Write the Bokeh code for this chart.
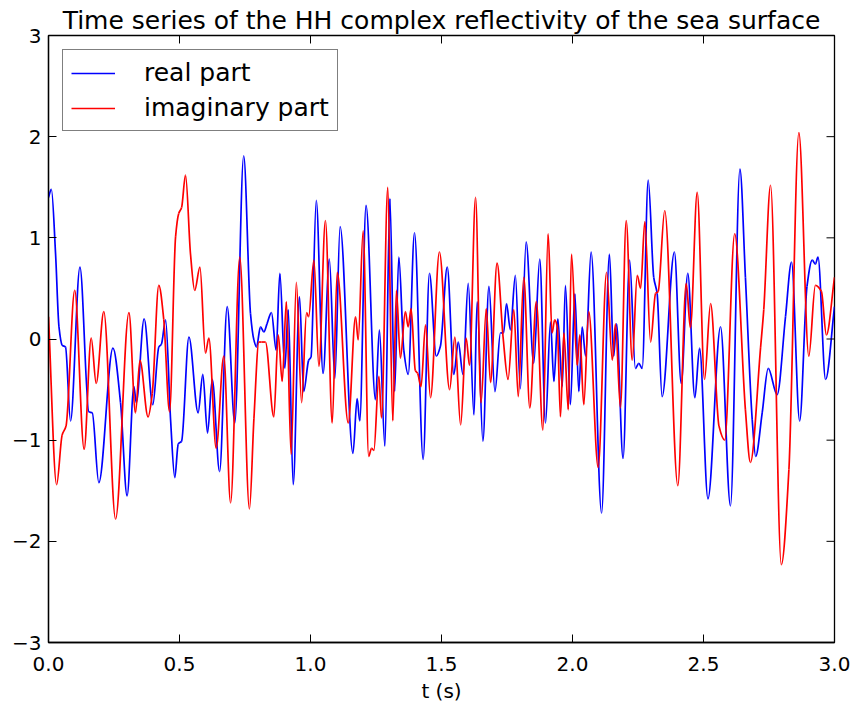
import numpy as np
from bokeh.plotting import figure
from bokeh.models import (FixedTicker, PrintfTickFormatter, CustomJSTickFormatter,
                          Range1d, Legend, LegendItem, ColumnDataSource)
from bokeh.embed import file_html
from bokeh.resources import INLINE

TITLE = "Time series of the HH complex reflectivity of the sea surface"
X_LABEL = "t (s)"
SERIES_NAMES = ["real part", "imaginary part"]
X_TICKS = [0.0, 0.5, 1.0, 1.5, 2.0, 2.5, 3.0]
Y_TICKS = [-3, -2, -1, 0, 1, 2, 3]

# real part (extrema and shoulders)
real_t = [0.000, 0.011, 0.027, 0.040, 0.052, 0.065, 0.084, 0.120, 0.154, 0.167, 0.192, 0.246, 0.275, 0.300,
          0.326, 0.335, 0.365, 0.398, 0.421, 0.431, 0.447, 0.466, 0.482, 0.495, 0.508, 0.536, 0.571, 0.589,
          0.607, 0.625, 0.653, 0.682, 0.711, 0.745, 0.771, 0.784, 0.794, 0.809, 0.822, 0.834, 0.851, 0.869,
          0.883, 0.902, 0.915, 0.934, 0.958, 0.974, 0.993, 1.002, 1.022, 1.048, 1.072, 1.093, 1.113, 1.162,
          1.178, 1.188, 1.212, 1.248, 1.263, 1.284, 1.303, 1.321, 1.337, 1.356, 1.373, 1.397, 1.430, 1.454,
          1.480, 1.496, 1.522, 1.547, 1.564, 1.582, 1.602, 1.624, 1.636, 1.658, 1.681, 1.704, 1.725, 1.737,
          1.748, 1.763, 1.782, 1.801, 1.823, 1.852, 1.875, 1.897, 1.916, 1.929, 1.944, 1.961, 1.973, 1.992,
          2.009, 2.024, 2.037, 2.050, 2.071, 2.111, 2.141, 2.157, 2.168, 2.193, 2.218, 2.240, 2.253, 2.266,
          2.289, 2.310, 2.323, 2.342, 2.389, 2.415, 2.440, 2.467, 2.485, 2.517, 2.565, 2.603, 2.639, 2.660,
          2.686, 2.699, 2.724, 2.747, 2.781, 2.813, 2.836, 2.867, 2.895, 2.915, 2.927, 2.937, 2.966, 3.000]
real_y = [1.40, 1.48, 0.84, 0.12, -0.06, -0.08, -0.81, 0.71, -0.72, -0.73, -1.42, -0.09, -0.63, -1.55,
          -0.47, -0.63, 0.20, -0.65, -0.08, -0.05, 0.19, -0.80, -1.37, -1.04, -1.01, 0.02, -0.73, -0.35,
          -0.93, -0.40, -1.31, 0.32, -0.83, 1.81, 0.25, -0.01, -0.08, 0.12, 0.07, 0.15, 0.26, -0.11,
          0.65, -0.29, 0.29, -1.44, 0.42, -0.52, -0.21, -0.18, 1.37, -0.34, 0.79, -0.39, 1.11, -1.13,
          -0.59, -0.81, 1.32, -0.60, 0.09, -1.06, 1.39, -0.52, 0.81, -0.11, -0.35, 1.05, -1.19, 0.65,
          -0.17, -0.07, 0.71, -0.35, -0.03, -0.35, 0.55, -0.75, 0.37, -1.01, 0.52, -0.52, 0.06, 0.06,
          0.35, 0.09, 0.63, -0.49, 0.96, -0.24, 0.79, -0.83, 0.17, -0.42, 0.20, -0.47, 0.53, -0.65,
          0.45, -0.52, 0.12, -0.17, 0.86, -1.72, 0.84, -0.17, 0.15, -1.18, 0.78, -0.29, -0.24, -0.29,
          1.57, 0.61, 0.45, -0.57, 0.86, -0.44, 0.65, -0.58, -0.09, -1.58, 0.12, -1.65, 1.68, 0.61,
          -0.80, -1.16, -0.73, -0.29, -0.55, 0.22, 0.76, -0.81, 0.52, 0.78, 0.74, 0.81, -0.40, 0.32]

# imaginary part
imag_t = [0.000, 0.031, 0.052, 0.067, 0.100, 0.136, 0.163, 0.182, 0.211, 0.256, 0.307, 0.332, 0.349, 0.380,
          0.396, 0.421, 0.440, 0.462, 0.485, 0.497, 0.508, 0.523, 0.542, 0.558, 0.578, 0.599, 0.612, 0.640,
          0.669, 0.695, 0.730, 0.767, 0.784, 0.803, 0.813, 0.828, 0.860, 0.877, 0.892, 0.908, 0.926, 0.946,
          0.966, 0.985, 0.993, 1.013, 1.032, 1.057, 1.083, 1.102, 1.144, 1.172, 1.182, 1.201, 1.222, 1.233,
          1.242, 1.261, 1.271, 1.295, 1.314, 1.328, 1.343, 1.362, 1.373, 1.384, 1.400, 1.409, 1.422, 1.439,
          1.458, 1.492, 1.531, 1.551, 1.573, 1.594, 1.607, 1.630, 1.651, 1.671, 1.687, 1.712, 1.735, 1.754,
          1.776, 1.793, 1.814, 1.837, 1.862, 1.887, 1.907, 1.922, 1.932, 1.942, 1.954, 1.967, 1.984, 1.996,
          2.018, 2.028, 2.043, 2.062, 2.098, 2.130, 2.152, 2.164, 2.183, 2.205, 2.228, 2.247, 2.260, 2.276,
          2.298, 2.317, 2.327, 2.352, 2.402, 2.434, 2.450, 2.476, 2.504, 2.527, 2.559, 2.581, 2.619, 2.660,
          2.679, 2.718, 2.730, 2.756, 2.797, 2.826, 2.864, 2.902, 2.927, 2.950, 2.969, 3.000]
imag_y = [0.22, -1.44, -0.95, -0.86, 0.48, -1.09, 0.01, -0.44, 0.27, -1.78, 0.26, -0.73, -0.21, -0.77,
          -0.54, 0.53, 0.19, -0.72, 1.01, 1.24, 1.30, 1.62, 0.84, 0.48, 0.71, -0.14, 0.01, -1.08,
          -0.17, -1.62, 0.81, -1.68, -0.79, -0.03, -0.03, -0.03, -0.77, 0.04, -0.42, 0.37, -1.14, 0.56,
          -0.63, 0.26, 0.22, 0.78, -0.27, 1.17, -0.83, 0.66, -0.83, 0.22, -0.01, 1.07, -1.16, -1.08,
          -1.10, -0.37, -0.78, 1.50, -0.81, 0.48, -0.19, 0.27, 0.12, 0.30, -0.31, -0.34, -0.47, 0.14,
          -0.58, 0.86, -0.50, 0.02, -0.85, 0.01, -0.26, 1.40, -0.63, 0.30, -0.43, 0.75, 0.02, -0.40,
          0.29, -0.57, 0.61, -0.68, 0.37, -0.90, 1.04, 0.06, 0.19, 0.12, -0.77, 0.06, -0.70, 0.84,
          -0.26, 0.04, -0.65, 0.27, -1.27, 0.66, -0.21, 0.15, -0.68, 1.17, -0.21, 0.63, 0.50, 1.16,
          -0.03, 0.45, 0.47, 1.27, -1.45, 0.55, 0.11, 1.45, -0.40, 0.35, -0.86, -1.00, 1.04, -0.70,
          -1.22, -0.08, 0.29, 1.52, -2.23, -1.29, 2.04, -0.17, 0.53, 0.47, 0.04, 0.61]

COLORS = ["#0000ff", "#ff0000"]
FONT = "DejaVu Sans"

X_MIN, X_MAX, Y_MIN, Y_MAX = 0.0, 3.0, -3.0, 3.0
WIDTH, HEIGHT = 850, 705
BORDER_L, BORDER_R, BORDER_T = 48, 16, 35
AXIS_BOTTOM_SIZE = 62
TICK_PX = 8


def smooth_segments(t, y):
    """Cubic Bezier segments through the read points (monotone tangents)."""
    t = np.asarray(t, float)
    y = np.asarray(y, float)
    h = np.diff(t)
    d = np.diff(y) / h
    m = np.zeros_like(y)
    m[0], m[-1] = d[0], d[-1]
    for i in range(1, len(y) - 1):
        if d[i - 1] * d[i] <= 0:
            m[i] = 0.0
        else:
            w1 = 2 * h[i] + h[i - 1]
            w2 = h[i] + 2 * h[i - 1]
            m[i] = (w1 + w2) / (w1 / d[i - 1] + w2 / d[i])
    return dict(x0=t[:-1], y0=y[:-1], x1=t[1:], y1=y[1:],
                cx0=t[:-1] + h / 3, cy0=y[:-1] + m[:-1] * h / 3,
                cx1=t[1:] - h / 3, cy1=y[1:] - m[1:] * h / 3)


p = figure(width=WIDTH, height=HEIGHT, output_backend="svg", toolbar_location=None,
           x_range=Range1d(X_MIN, X_MAX), y_range=Range1d(Y_MIN, Y_MAX),
           min_border_left=BORDER_L, min_border_right=BORDER_R, min_border_top=BORDER_T,
           min_border_bottom=0,
           background_fill_color="white", border_fill_color="white")

p.title.text = TITLE
p.title.text_font = FONT
p.title.text_font_size = "25px"
p.title.text_font_style = "normal"
p.title.text_color = "black"
p.title.align = "center"
p.title.standoff = 2

p.xgrid.visible = False
p.ygrid.visible = False
p.outline_line_color = "black"
p.outline_line_width = 1.3

bottom = p.xaxis[0]
left = p.yaxis[0]

legend_items = []
for (tt, yy, name, col) in [(real_t, real_y, SERIES_NAMES[0], COLORS[0]),
                            (imag_t, imag_y, SERIES_NAMES[1], COLORS[1])]:
    src = ColumnDataSource(smooth_segments(tt, yy))
    p.bezier(x0="x0", y0="y0", x1="x1", y1="y1", cx0="cx0", cy0="cy0", cx1="cx1", cy1="cy1",
             source=src, line_color=col, line_width=1.7)
    # one-point line: invisible in the plot, used for the legend swatch
    lr = p.line(x=tt[:1], y=yy[:1], line_color=col, line_width=1.7)
    legend_items.append(LegendItem(label=name, renderers=[lr]))

xt = FixedTicker(ticks=X_TICKS)
yt = FixedTicker(ticks=Y_TICKS)
yfmt = CustomJSTickFormatter(code="return tick < 0 ? '\u2212' + Math.abs(tick) : String(tick);")

bottom.ticker = xt
bottom.formatter = PrintfTickFormatter(format="%.1f")
bottom.axis_label = X_LABEL
left.ticker = yt
left.formatter = yfmt

for ax in [bottom, left]:
    ax.major_tick_in = TICK_PX
    ax.major_tick_out = 0
    ax.minor_tick_in = 0
    ax.minor_tick_out = 0
    ax.major_tick_line_color = "black"
    ax.axis_line_color = "black"
    ax.axis_line_width = 1.3
    ax.major_label_text_font = FONT
    ax.major_label_text_color = "black"
    ax.major_label_text_font_size = "20px"
    ax.axis_label_text_font = FONT
    ax.axis_label_text_font_style = "normal"
    ax.axis_label_text_color = "black"

bottom.major_label_standoff = 14
left.major_label_standoff = 7
bottom.axis_label_text_font_size = "20px"
bottom.axis_label_standoff = 5

# inward ticks on the top and right edges (matplotlib classic style)
frame_w = WIDTH - BORDER_L - BORDER_R
frame_h = HEIGHT - BORDER_T - AXIS_BOTTOM_SIZE
dy_tick = TICK_PX * (Y_MAX - Y_MIN) / frame_h
dx_tick = TICK_PX * (X_MAX - X_MIN) / frame_w
xt_arr = np.array(X_TICKS)
yt_arr = np.array(Y_TICKS, float)
p.segment(x0=xt_arr, x1=xt_arr, y0=np.full_like(xt_arr, Y_MAX), y1=np.full_like(xt_arr, Y_MAX - dy_tick),
          line_color="black", line_width=1)
p.segment(x0=np.full_like(yt_arr, X_MAX), x1=np.full_like(yt_arr, X_MAX - dx_tick), y0=yt_arr, y1=yt_arr,
          line_color="black", line_width=1)

legend = Legend(items=legend_items, location="top_left")
legend.margin = 14
legend.padding = 8
legend.spacing = 6
legend.glyph_width = 44
legend.glyph_height = 24
legend.label_height = 24
legend.label_standoff = 29
legend.label_text_font = FONT
legend.label_text_font_size = "25px"
legend.label_text_color = "black"
legend.border_line_color = "black"
legend.border_line_width = 1.3
legend.background_fill_color = "white"
legend.background_fill_alpha = 1.0
p.add_layout(legend, "center")

open("out.html", "w").write(file_html(p, INLINE))
